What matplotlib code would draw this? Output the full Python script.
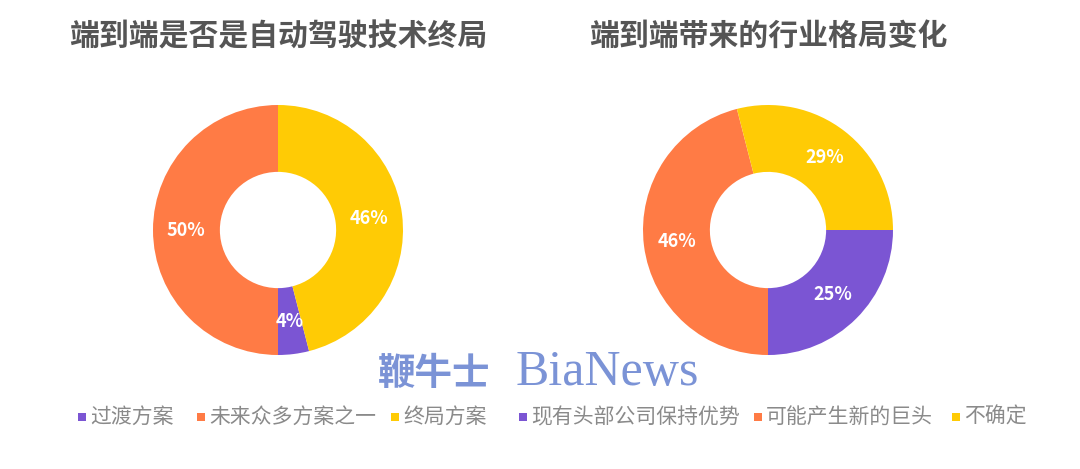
import matplotlib
matplotlib.use("Agg")
import matplotlib.pyplot as plt
from matplotlib.patches import Rectangle

plt.rcParams["font.family"] = ["Noto Sans CJK SC", "DejaVu Sans"]

# data
left_title = "端到端是否是自动驾驶技术终局"
left_labels = ["过渡方案", "未来众多方案之一", "终局方案"]
left_values = [4, 50, 46]

right_title = "端到端带来的行业格局变化"
right_labels = ["现有头部公司保持优势", "可能产生新的巨头", "不确定"]
right_values = [25, 46, 29]

colors = ["#7B55D3", "#FF7B45", "#FFCB05"]
W, H = 1080, 469

fig = plt.figure(figsize=(W / 100, H / 100), dpi=100)
fig.patch.set_facecolor("white")


def donut(cx, cy, r, values, start):
    ax = fig.add_axes([(cx - r) / W, (H - cy - r) / H, 2 * r / W, 2 * r / H])
    ax.pie(
        values,
        colors=colors,
        startangle=start,
        counterclock=False,
        radius=1,
        wedgeprops={"width": 0.535, "linewidth": 0},
        autopct=lambda p: f"{p:.0f}%",
        pctdistance=0.735,
        textprops={"color": "white", "fontsize": 13, "fontweight": "bold"},
    )
    ax.set_xlim(-1, 1)
    ax.set_ylim(-1, 1)
    ax.set_aspect("equal")
    ax.axis("off")
    return ax


donut(278, 230, 125, left_values, 90 + 360 * (left_values[0] + left_values[1]) / sum(left_values))
donut(768, 230, 125, right_values, 0)

# overlay in pixel coords for titles, legend, logo
ov = fig.add_axes([0, 0, 1, 1], zorder=-1)
ov.set_xlim(0, W)
ov.set_ylim(H, 0)
ov.axis("off")

ov.text(278, 36, left_title, ha="center", va="center", fontsize=21.5,
        fontweight="bold", color="#555555")
ov.text(768, 36, right_title, ha="center", va="center", fontsize=21.5,
        fontweight="bold", color="#555555")

legend_x = [82, 201, 395, 523, 758, 956]
legend_labels = left_labels + right_labels
for i, (x, lab) in enumerate(zip(legend_x, legend_labels)):
    ov.add_patch(Rectangle((x - 4, 413), 8, 8, color=colors[i % 3], lw=0))
    ov.text(x + 8, 417, lab, ha="left", va="center", fontsize=15, color="#8a8a8a")

# watermark logo
ov.text(378, 374, "鞭牛士", ha="left", va="center", fontsize=27, fontweight="bold",
        color="#7B93D6")
ov.text(516, 373, "BiaNews", ha="left", va="center", fontsize=36,
        family="Liberation Serif", color="#7B93D6")

fig.savefig("out.png", dpi=100, facecolor="white")
